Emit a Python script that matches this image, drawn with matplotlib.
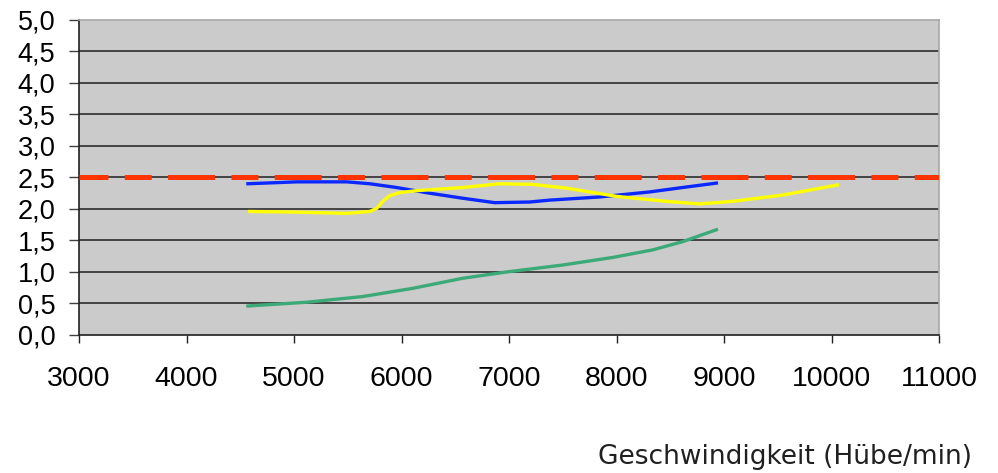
import numpy as np
import matplotlib
matplotlib.use('Agg')
import matplotlib.pyplot as plt

# values
blue_x = [4571, 5026, 5491, 5704, 5955, 6262, 6569, 6866, 7191, 7377, 7842, 8307, 8613, 8929]
blue_y = [2.40, 2.43, 2.43, 2.40, 2.34, 2.25, 2.17, 2.10, 2.11, 2.14, 2.19, 2.27, 2.34, 2.41]

yellow_x = [4589, 5026, 5491, 5704, 5770, 5825, 5890, 5983, 6141, 6569, 6913, 7219,
            7535, 8000, 8465, 8771, 9078, 9543, 10054]
yellow_y = [1.96, 1.95, 1.93, 1.96, 2.01, 2.12, 2.21, 2.26, 2.29, 2.34, 2.40, 2.39,
            2.33, 2.20, 2.12, 2.08, 2.12, 2.22, 2.38]

green_x = [4571, 5119, 5639, 6104, 6569, 6978, 7498, 7963, 8335, 8613, 8929]
green_y = [0.46, 0.52, 0.61, 0.74, 0.90, 1.00, 1.11, 1.23, 1.35, 1.48, 1.67]

limit_x = [3000, 11000]
limit_y = [2.5, 2.5]

x_ticks = list(range(3000, 11001, 1000))
y_ticks = [i * 0.5 for i in range(11)]
y_labels = [f'{v:.1f}'.replace('.', ',') for v in y_ticks]

plt.rcParams['font.family'] = ['Liberation Sans', 'DejaVu Sans']
plt.rcParams['lines.scale_dashes'] = False

fig = plt.figure(figsize=(9.98, 4.73), dpi=100)
ax = fig.add_axes([0.0792, 0.2918, 0.8617, 0.6661])
ax.set_facecolor('#cbcbcb')

# grid lines
for v in y_ticks[1:-1]:
    ax.axhline(v, color='#202020', lw=1.1, zorder=1)

ax.plot(blue_x, blue_y, color='#0a28ff', lw=2.4, zorder=3, solid_joinstyle='round')
ax.plot(yellow_x, yellow_y, color='#ffff00', lw=2.4, zorder=3, solid_joinstyle='round')
ax.plot(green_x, green_y, color='#3caa78', lw=2.4, zorder=3, solid_joinstyle='round')

# red limit line (long/short dashes)
ax.plot(limit_x, limit_y, color='#ff3300', lw=3.6, zorder=4,
        linestyle=(13, (33.8, 11.8, 19.4, 11.8)), dash_capstyle='butt')

ax.set_xlim(3000, 11000)
ax.set_ylim(0, 5)
ax.set_xticks(x_ticks)
ax.set_xticklabels([str(t) for t in x_ticks], fontsize=20.5)
ax.set_yticks(y_ticks)
ax.set_yticklabels(y_labels, fontsize=19.5)
ax.tick_params(axis='y', length=7, width=1, color='#404040', pad=10)
ax.tick_params(axis='x', length=6, width=1, color='#202020', pad=16)

ax.spines['left'].set_color('#202020')
ax.spines['bottom'].set_color('#202020')
ax.spines['top'].set_color('#a8a8a8')
ax.spines['right'].set_color('#a8a8a8')
for s in ax.spines.values():
    s.set_linewidth(1.2)

fig.text(0.974, 1 - 464 / 473, 'Geschwindigkeit (Hübe/min)', ha='right', va='baseline',
         fontsize=19, family=['DejaVu Sans'], color='#202020')

fig.savefig('out.png', dpi=100)
